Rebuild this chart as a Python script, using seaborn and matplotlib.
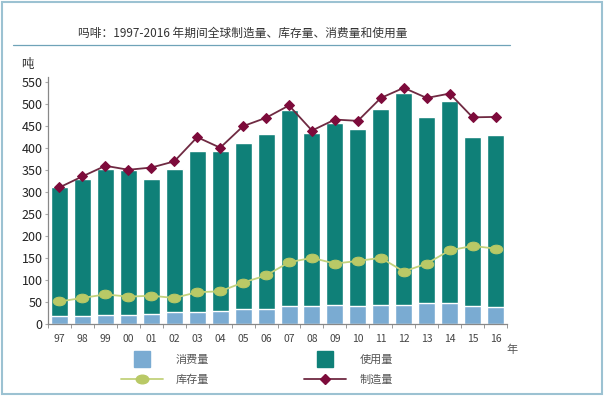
import numpy as np
import pandas as pd
import matplotlib
matplotlib.use("Agg")
import matplotlib.pyplot as plt
import seaborn as sns
from matplotlib.lines import Line2D
from matplotlib.patches import Rectangle
from matplotlib.path import Path
from matplotlib.transforms import Affine2D

# values (tonnes)
years = ["97", "98", "99", "00", "01", "02", "03", "04", "05", "06",
         "07", "08", "09", "10", "11", "12", "13", "14", "15", "16"]
consumption = [17, 17, 20, 21, 22, 28, 28, 30, 33, 33,
               40, 40, 43, 41, 43, 44, 47, 47, 40, 38]
usage = [295, 312, 331, 328, 307, 324, 364, 363, 377, 398,
         446, 393, 414, 401, 444, 480, 423, 460, 384, 392]
stock = [51, 59, 67, 62, 64, 59, 72, 74, 94, 110,
         140, 150, 137, 143, 150, 119, 137, 167, 177, 171]
production = [310, 335, 359, 350, 355, 369, 424, 400, 449, 468,
              496, 439, 464, 461, 513, 536, 513, 523, 469, 470]
yticks = [0, 50, 100, 150, 200, 250, 300, 350, 400, 450, 500, 550]

title = "吗啡：1997-2016 年期间全球制造量、库存量、消费量和使用量"
labels = ["消费量", "库存量", "使用量", "制造量"]

c_cons = "#7aabd2"
c_use = "#0f8078"
c_stock = "#c3d27c"
c_stock_mk = "#b9c966"
c_prod_line = "#6f2a42"
c_prod_mk = "#7d0b3b"

sns.set_style("white")
plt.rcParams["font.family"] = ["Noto Sans CJK SC", "DejaVu Sans"]

df = pd.DataFrame({"year": years, "consumption": consumption, "usage": usage,
                   "stock": stock, "production": production})
df["total"] = df["consumption"] + df["usage"]
df["pos"] = np.arange(len(df))

fig = plt.figure(figsize=(6.04, 3.96), dpi=100)
ax = fig.add_axes([0.0795, 0.182, 0.76, 0.624])

sns.barplot(data=df, x="year", y="total", color=c_use, width=0.74,
            saturation=1, ax=ax)
sns.barplot(data=df, x="year", y="consumption", color=c_cons, width=0.74,
            saturation=1, ax=ax)

ellipse = Path.unit_circle().transformed(Affine2D().scale(1.45, 1.0))
sns.lineplot(data=df, x="pos", y="stock", color=c_stock, lw=1.3,
             marker=ellipse, markersize=9, markerfacecolor=c_stock_mk,
             markeredgecolor=c_stock_mk, ax=ax)
sns.lineplot(data=df, x="pos", y="production", color=c_prod_line, lw=1.3,
             marker="D", markersize=5.5, markerfacecolor=c_prod_mk,
             markeredgecolor=c_prod_mk, ax=ax)

ax.set_xlim(-0.46, 19.5)
ax.set_ylim(0, 561)
ax.set_yticks(yticks)
ax.set_xticks(range(len(years)))
ax.set_xticklabels(years)
ax.set_xticks(np.arange(-0.5, len(years)), minor=True)
ax.set_xlabel("")
ax.set_ylabel("")
ax.tick_params(axis="x", which="major", length=0, labelsize=7.5,
               labelcolor="#444444", pad=7)
ax.tick_params(axis="x", which="minor", length=3, color="#888888",
               direction="out", bottom=True)
ax.tick_params(axis="y", length=2, color="#aaaaaa", labelsize=9,
               labelcolor="#222222", pad=2, left=True)
for s in ["top", "right"]:
    ax.spines[s].set_visible(False)
for s in ["left", "bottom"]:
    ax.spines[s].set_color("#888888")
    ax.spines[s].set_linewidth(0.9)

fig.text(0.046, 0.838, "吨", fontsize=9, color="#333333", ha="center", va="center")
fig.text(0.848, 0.116, "年", fontsize=8, color="#555555", ha="center", va="center")

# title and rule under it
fig.text(0.129, 0.917, title, fontsize=8.45, color="#333333", ha="left", va="center")
fig.add_artist(Line2D([0.022, 0.845], [0.886, 0.886], color="#6fa3b8", lw=0.9))

# outer frame
fig.add_artist(Rectangle((0.004, 0.006), 0.992, 0.988, fill=False,
                         edgecolor="#9cc2d2", lw=1.5))

handles = [
    Line2D([], [], marker="s", ls="none", markersize=12, color=c_cons),
    Line2D([], [], color=c_stock, lw=1.3, marker=ellipse, markersize=9,
           markerfacecolor=c_stock_mk, markeredgecolor=c_stock_mk),
    Line2D([], [], marker="s", ls="none", markersize=12, color=c_use),
    Line2D([], [], color=c_prod_line, lw=1.3, marker="D", markersize=5.5,
           markerfacecolor=c_prod_mk, markeredgecolor=c_prod_mk),
]
fig.legend(handles, labels, ncol=2, loc="center", bbox_to_anchor=(0.425, 0.066),
           frameon=False, fontsize=8, labelcolor="#555555", handlelength=3.8,
           handletextpad=1.2, columnspacing=8.5, labelspacing=0.9)

fig.savefig("out.png", dpi=100)
